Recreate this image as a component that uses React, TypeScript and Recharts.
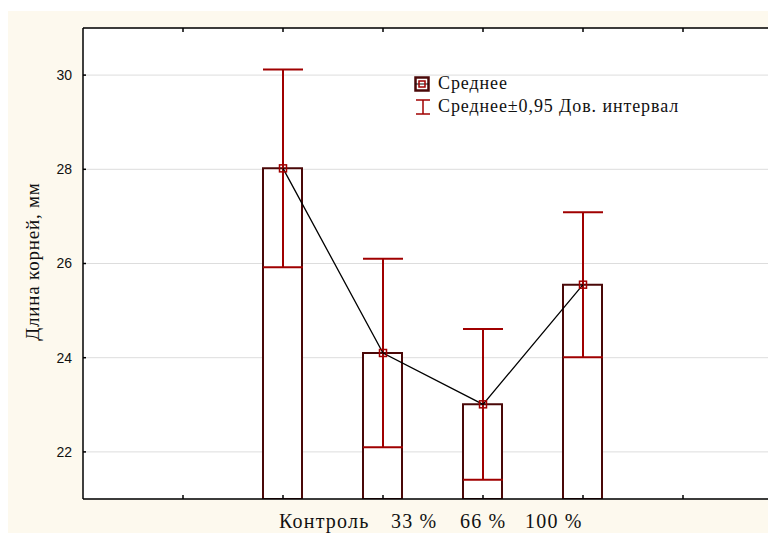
import { ComposedChart, Bar, Line, ErrorBar, XAxis, YAxis, CartesianGrid } from 'recharts';

const categories = ['Контроль', '33 %', '66 %', '100 %'];
const positions = [2, 3, 4, 5];
const means = [28.02, 24.1, 23.01, 25.55];
const ciHalf = [2.1, 2.0, 1.6, 1.54];
const yTicks = [22, 24, 26, 28, 30];
const xTicks = [1, 2, 3, 4, 5, 6];

const data = categories.map((name, i) => ({ name, x: positions[i], mean: means[i], ci: ciHalf[i] }));

const serif = '"Liberation Serif", "Times New Roman", serif';
const sans = '"Liberation Sans", Arial, sans-serif';
const dark = '#4a0808';
const red = '#a00000';

const SquareDot = (props: any) => {
  const { cx, cy } = props;
  if (cx == null || cy == null) return null;
  return <rect x={cx - 3.5} y={cy - 3.5} width={7} height={7} fill="none" stroke={red} strokeWidth={1.5} />;
};

const LegendBox = () => (
  <div style={{ position: 'absolute', left: 406, top: 61, fontFamily: serif, fontSize: 18, letterSpacing: 0.9, color: '#111', lineHeight: '23px' }}>
    <div style={{ display: 'flex', alignItems: 'center' }}>
      <svg width={18} height={18} style={{ marginRight: 6 }}>
        <rect x={1.5} y={2.5} width={13} height={13} fill="none" stroke={dark} strokeWidth={2.5} />
        <line x1={1} y1={9} x2={15} y2={9} stroke="#111" strokeWidth={1} />
        <rect x={5} y={6} width={6} height={6} fill="none" stroke={red} strokeWidth={1.5} />
      </svg>
      Среднее
    </div>
    <div style={{ display: 'flex', alignItems: 'center' }}>
      <svg width={18} height={18} style={{ marginRight: 6 }}>
        <line x1={2} y1={2} x2={16} y2={2} stroke={red} strokeWidth={1.5} />
        <line x1={9} y1={2} x2={9} y2={16} stroke={red} strokeWidth={1.5} />
        <line x1={2} y1={16} x2={16} y2={16} stroke={red} strokeWidth={1.5} />
      </svg>
      Среднее±0,95 Дов. интервал
    </div>
  </div>
);

// left edges of each word, measured from the left axis
const labelStarts = [196, 308, 377, 442];

const XTitle = (props: any) => {
  const { viewBox } = props;
  return (
    <text y={viewBox.y + 29} fontFamily={serif} fontSize={20} letterSpacing={1.2} fill="#111">
      {categories.map((c, i) => (
        <tspan key={c} x={viewBox.x + labelStarts[i]}>{c}</tspan>
      ))}
    </text>
  );
};

const YTitle = (props: any) => {
  const { viewBox } = props;
  const cx = viewBox.x + 24;
  const cy = viewBox.y + viewBox.height / 2 - 2;
  return (
    <text x={cx} y={cy} transform={`rotate(-90 ${cx} ${cy})`} textAnchor="middle" dominantBaseline="central" fontFamily={serif} fontSize={19} letterSpacing={0.8} fill="#111">
      Длина корней, мм
    </text>
  );
};

export default function App() {
  return (
    <div style={{ paddingTop: 3 }}>
      <div style={{ position: 'relative', width: 768, height: 522, background: '#fdf9ee' }}>
        <ComposedChart width={768} height={522} data={data} margin={{ top: 16, right: 0, bottom: 33, left: 0 }}>
          <CartesianGrid horizontal vertical={false} stroke="#dddddd" fill="#ffffff" />
          <XAxis
            xAxisId="bottom"
            dataKey="x"
            type="number"
            domain={[0, 6.93]}
            ticks={xTicks}
            allowDataOverflow
            stroke="#000"
            strokeWidth={1.5}
            tickSize={-4}
            tickFormatter={() => ''}
            height={1}
            label={<XTitle />}
          />
          <XAxis
            xAxisId="top"
            orientation="top"
            dataKey="x"
            type="number"
            domain={[0, 6.93]}
            ticks={xTicks}
            allowDataOverflow
            stroke="#000"
            strokeWidth={1.5}
            tickSize={-4}
            tickFormatter={() => ''}
            height={1}
          />
          <YAxis
            type="number"
            domain={[21, 31]}
            ticks={yTicks}
            allowDataOverflow
            width={75}
            stroke="#000"
            strokeWidth={1.5}
            tickSize={-3}
            tickMargin={14}
            tick={{ fill: '#111', fontSize: 14, fontFamily: sans }}
            label={<YTitle />}
          />
          <Bar xAxisId="bottom" dataKey="mean" barSize={39} fill="#ffffff" stroke={dark} strokeWidth={2} isAnimationActive={false} />
          <Line xAxisId="bottom" dataKey="mean" stroke="#000" strokeWidth={1.3} dot={<SquareDot />} activeDot={false} isAnimationActive={false}>
            <ErrorBar dataKey="ci" direction="y" width={20} stroke={red} strokeWidth={2} isAnimationActive={false} />
          </Line>
        </ComposedChart>
        <LegendBox />
      </div>
    </div>
  );
}
